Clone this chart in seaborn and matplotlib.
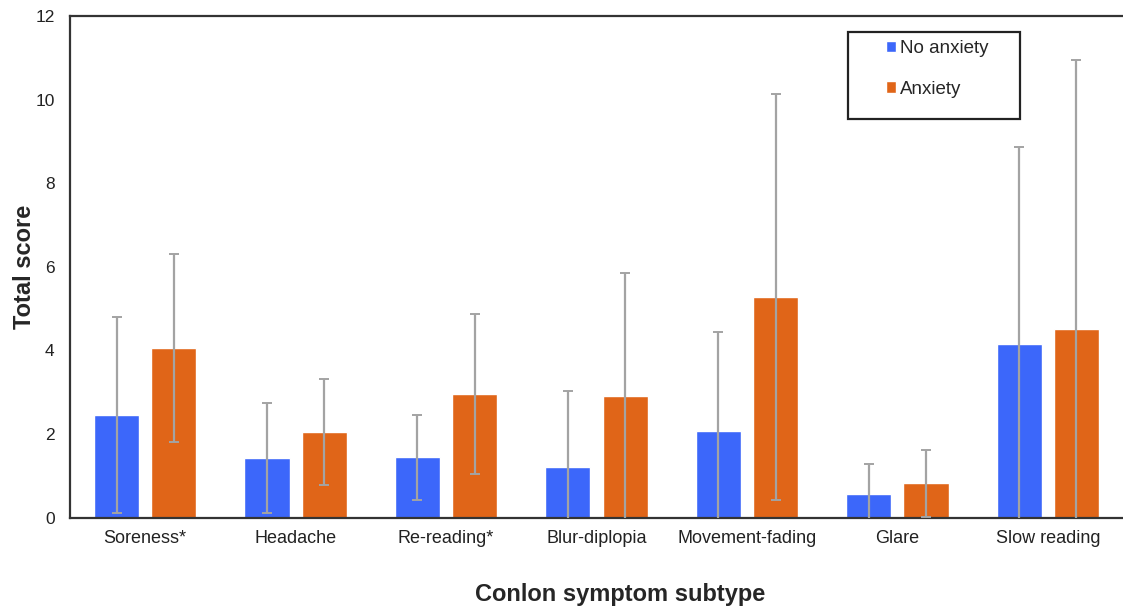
import matplotlib
matplotlib.use("Agg")
import matplotlib.pyplot as plt
import seaborn as sns
import pandas as pd
import numpy as np
from matplotlib.patches import Rectangle

# values (mean and SD per group)
symptoms = ["Soreness*", "Headache", "Re-reading*", "Blur-diplopia",
            "Movement-fading", "Glare", "Slow reading"]
groups = ["No anxiety", "Anxiety"]
no_anx_mean = [2.45, 1.42, 1.44, 1.20, 2.06, 0.57, 4.14]
no_anx_sd = [2.34, 1.31, 1.01, 1.83, 2.37, 0.71, 4.73]
anx_mean = [4.06, 2.04, 2.96, 2.90, 5.27, 0.82, 4.51]
anx_sd = [2.25, 1.27, 1.92, 2.96, 4.86, 0.80, 6.43]
y_ticks = [0, 2, 4, 6, 8, 10, 12]

colors = {"No anxiety": "#3C67FA", "Anxiety": "#E06518"}

df = pd.DataFrame({
    "symptom": symptoms * 2,
    "group": [groups[0]] * len(symptoms) + [groups[1]] * len(symptoms),
    "score": no_anx_mean + anx_mean,
})
sds = {groups[0]: no_anx_sd, groups[1]: anx_sd}

sns.set_style("white")
plt.rcParams["font.family"] = ["Liberation Sans", "DejaVu Sans"]

fig = plt.figure(figsize=(11.23, 6.12), dpi=100)
ax = fig.add_axes([70 / 1123, 1 - 517.5 / 612, 1053 / 1123, 501.5 / 612])

sns.barplot(data=df, x="symptom", y="score", hue="group", order=symptoms,
            hue_order=groups, palette=colors, width=0.76, gap=0.21,
            errorbar=None, ax=ax, legend=False, saturation=1)

# error bars (SD) drawn at each bar centre
for container, grp in zip(ax.containers, groups):
    xs = [p.get_x() + p.get_width() / 2 for p in container.patches]
    hs = [p.get_height() for p in container.patches]
    ax.errorbar(xs, hs, yerr=sds[grp], fmt="none", ecolor="#A3A3A3",
                elinewidth=1.6, capsize=3.5, capthick=1.4, zorder=3)

ax.set_xlim(-0.5, 6.5)
ax.set_ylim(0, 12)
ax.set_yticks(y_ticks)
ax.tick_params(axis="y", length=0, pad=11, labelsize=12.5, labelcolor="#222222")
ax.tick_params(axis="x", length=0, pad=9, labelsize=13, labelcolor="#222222")

ax.set_ylabel("Total score", fontsize=17, fontweight="bold")
ax.yaxis.set_label_coords(-0.032, 0.5)
ax.set_xlabel("Conlon symptom subtype", fontsize=17, fontweight="bold")
ax.xaxis.set_label_coords(0.522, -0.13)

for side in ["left", "bottom", "top"]:
    ax.spines[side].set_visible(True)
    ax.spines[side].set_color("#333333")
    ax.spines[side].set_linewidth(1.6)
ax.spines["right"].set_visible(False)

# legend with its own boxed frame
handles = [Rectangle((0, 0), 1, 1, facecolor=colors[g]) for g in groups]
ax.legend(handles, groups, loc="upper left", bbox_to_anchor=(0.775, 0.952),
          frameon=False, fontsize=13.5, handlelength=0.55, handleheight=0.55,
          handletextpad=0.2, labelspacing=1.25, borderpad=0, borderaxespad=0)
ax.add_patch(Rectangle((0.739, 0.794), 0.163, 0.174, transform=ax.transAxes,
                       fill=False, edgecolor="#222222", linewidth=1.6,
                       clip_on=False, zorder=5))

fig.savefig("out.png", dpi=100)
